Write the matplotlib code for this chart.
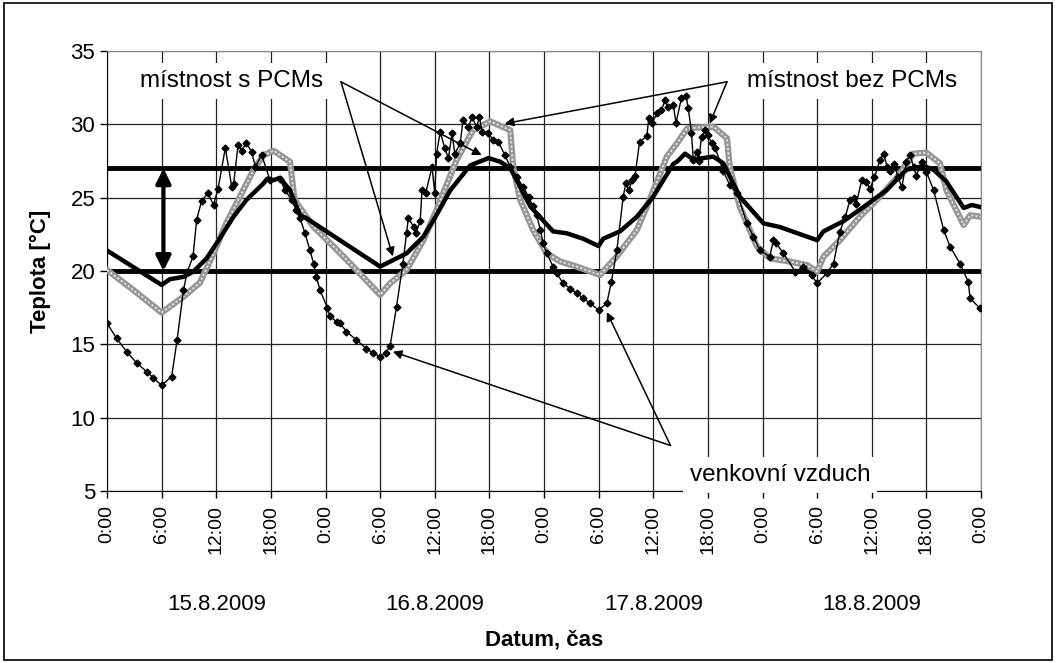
import matplotlib
matplotlib.use("Agg")
import matplotlib.pyplot as plt
from matplotlib.patches import Rectangle

plt.rcParams['font.family'] = ['Liberation Sans', 'DejaVu Sans']

# hours from 15.8.2009 0:00
pcm_t = [0, 6.0, 6.9, 8.4, 9.5, 10.95, 12.05, 13.9, 15.3, 17.2, 17.6, 18.3, 19.0, 20.1, 21.2, 21.9,
         30.0, 31.1, 32.9, 34.75, 36.0, 37.7, 39.9, 41.9, 43.2, 44.3, 45.0, 46.5, 49.0, 50.5, 52.3,
         54.0, 54.5, 56.35, 58.2, 60.0, 62.2, 62.6, 63.5, 64.4, 66.6, 67.7, 69.5, 72.1, 73.9, 78.0,
         78.7, 80.9, 83.4, 85.6, 87.8, 89.7, 90.8, 92.2, 94.1, 95.0, 96.0]
pcm_v = [21.4, 19.05, 19.44, 19.6, 19.96, 20.87, 21.9, 23.7, 24.84, 25.98, 26.3, 26.2, 26.35, 25.5, 23.8, 23.6,
         20.3, 20.64, 21.2, 22.34, 23.6, 25.5, 27.2, 27.7, 27.45, 27.0, 26.2, 24.4, 22.7, 22.57, 22.2,
         21.7, 22.2, 22.7, 23.7, 25.07, 27.3, 27.45, 28.0, 27.6, 27.8, 27.34, 25.07, 23.25, 23.0, 22.1,
         22.7, 23.4, 24.5, 25.5, 26.9, 27.16, 26.9, 26.1, 24.3, 24.5, 24.35]

nopcm_t = [0, 2.9, 6.0, 8.4, 10.2, 11.7, 13.1, 14.6, 16.1, 17.2, 18.3, 20.1, 20.6, 22.7, 24.9, 27.05,
           30.0, 31.1, 32.9, 34.75, 36.2, 38.4, 40.2, 42.1, 44.3, 44.6, 45.4, 46.8, 48.3, 49.8, 51.6,
           54.15, 56.0, 58.2, 59.6, 61.5, 62.6, 63.7, 64.0, 66.6, 68.1, 68.4, 69.5, 71.4, 72.8, 75.0,
           76.9, 78.0, 78.7, 80.5, 82.7, 84.9, 86.8, 88.6, 90.0, 91.5, 92.2, 94.1, 94.8, 96.0]
nopcm_v = [20.07, 18.7, 17.16, 18.25, 19.2, 21.2, 23.25, 25.07, 26.9, 27.9, 28.2, 27.45, 24.84, 23.0, 21.66, 20.3,
           18.37, 19.16, 20.07, 22.1, 24.16, 27.57, 29.6, 30.2, 29.6, 27.1, 24.84, 22.8, 21.2, 20.64, 20.3,
           19.73, 21.0, 22.8, 24.84, 27.8, 28.7, 29.7, 29.75, 29.84, 29.05, 27.1, 24.4, 21.66, 20.87, 20.64,
           20.4, 19.96, 20.98, 22.1, 23.7, 25.07, 26.4, 28.0, 28.07, 27.34, 25.5, 23.14, 23.8, 23.7]

out_t = [0, 1.06, 2.16, 3.3, 4.36, 5.1, 6.0, 7.1, 7.7, 8.4, 8.8, 9.45, 9.85, 10.4, 11.1, 11.7, 12.2,
         13.0, 13.7, 13.9, 14.4, 14.8, 15.3, 15.9, 16.3, 17.0, 17.9, 19.0, 19.55, 20.3, 20.8, 21.2, 21.75,
         22.3, 22.7, 23.0, 23.4, 24.2, 24.5, 25.3, 25.6, 26.3, 27.4, 28.5, 29.25, 30.0,
         30.6, 31.1, 31.8, 32.5, 32.9, 33.1, 33.7, 33.9, 34.4, 34.6, 35.0, 35.7, 36.0, 36.2, 36.6, 37.1,
         37.5, 37.9, 38.2, 38.8, 39.1, 39.7, 40.1, 40.6, 40.9, 41.2, 41.9, 42.4, 43.0, 43.7, 44.3, 45.0,
         45.7, 46.3, 46.8, 47.2, 47.6, 47.9, 48.3, 49.0, 49.4, 50.1, 50.9, 51.6, 52.3, 53.05, 54.0, 54.9,
         55.4, 56.0, 56.7, 57.0, 57.3, 57.7, 58.0, 58.5,
         59.3, 59.5, 59.9, 60.4, 60.9, 61.3, 61.6, 62.2, 62.5, 63.1, 63.6, 63.85, 64.2, 64.4, 64.8, 65.0,
         65.3, 65.7, 66.0, 66.4, 66.8, 67.7, 68.4, 69.2, 70.3, 71.0, 71.7, 72.8, 73.2, 73.5, 74.3, 75.6,
         76.5, 77.4, 78.0, 79.05, 79.8, 80.5, 81.1, 81.6, 82.1, 82.3, 82.9, 83.4, 83.8, 84.3, 84.9, 85.3,
         85.7, 86.0, 86.4, 86.9, 87.3, 87.8, 88.2, 88.6, 88.9, 89.5, 90.0, 90.8, 91.9, 92.6, 93.7, 94.6,
         94.8, 95.9]
out_v = [16.44, 15.4, 14.5, 13.7, 13.14, 12.7, 12.2, 12.8, 15.3, 18.7, 19.9, 21.0, 23.5, 24.8, 25.3, 24.5, 25.6,
         28.4, 25.75, 25.9, 28.6, 28.2, 28.75, 28.1, 27.1, 27.9, 26.2, 26.3, 25.5, 24.84, 24.16, 23.6, 22.57,
         21.4, 20.5, 19.6, 18.7, 17.5, 16.9, 16.5, 16.44, 15.87, 15.3, 14.7, 14.4, 14.16,
         14.4, 14.9, 17.57, 20.5, 22.57, 23.6, 23.0, 22.57, 23.4, 25.5, 25.3, 27.1, 25.3, 28.0, 29.5, 28.37,
         27.7, 29.4, 28.0, 28.7, 30.3, 29.8, 30.5, 29.8, 30.5, 29.5, 29.4, 28.93, 28.8, 27.9, 27.1, 26.4,
         25.75, 25.07, 24.4, 23.8, 22.8, 21.9, 21.2, 20.3, 19.84, 19.16, 18.8, 18.48, 18.14, 17.8, 17.34, 17.8,
         19.27, 21.4, 25.07, 26.0, 25.5, 26.2, 26.5, 28.8,
         29.2, 30.4, 30.1, 30.75, 30.97, 31.66, 31.2, 31.3, 30.1, 31.8, 31.9, 31.1, 29.4, 27.57, 28.1, 27.5,
         29.16, 29.6, 29.3, 28.7, 28.4, 26.8, 25.86, 25.3, 23.25, 22.34, 21.4, 20.98, 22.1, 21.9, 21.2, 19.96,
         20.3, 19.7, 19.16, 19.84, 20.5, 22.68, 23.7, 24.84, 25.0, 24.6, 26.2, 26.1, 25.6, 26.4, 27.57, 28.0,
         27.1, 26.8, 27.3, 26.4, 25.7, 27.45, 27.9, 27.1, 26.5, 27.45, 26.77, 25.5, 22.8, 21.66, 20.5, 19.27,
         18.14, 17.45]

tick_hours = list(range(0, 97, 6))
tick_labels = ['0:00', '6:00', '12:00', '18:00'] * 4 + ['0:00']
days = ['15.8.2009', '16.8.2009', '17.8.2009', '18.8.2009']
comfort = [20, 27]

fig = plt.figure(figsize=(10.56, 6.63), dpi=100)
ax = fig.add_axes([107/1056, 1 - 491/663, 874/1056, 440/663])
fs = 16

ax.set_xlim(0, 96)
ax.set_ylim(5, 35)
ax.set_xticks(tick_hours)
ax.set_xticklabels(tick_labels, rotation=90, fontsize=14)
ax.set_yticks(range(5, 36, 5))
ax.tick_params(axis='y', labelsize=fs, length=5, width=1)
ax.tick_params(axis='x', length=5, width=1, pad=5)
ax.grid(True, color='#222222', lw=0.9)
ax.set_axisbelow(True)
for s in ['top', 'right']:
    ax.spines[s].set_color('#888888')
for s in ['left', 'bottom']:
    ax.spines[s].set_color('black')

for c in comfort:
    ax.axhline(c, color='black', lw=3.5, zorder=2)

ax.plot(nopcm_t, nopcm_v, color='#959595', lw=4.5, zorder=3)
ax.plot(nopcm_t, nopcm_v, color='#e6e6e6', lw=1.3, ls=(0, (1.2, 1.2)), zorder=3)
ax.plot(pcm_t, pcm_v, color='black', lw=3.2, zorder=4)
ax.plot(out_t, out_v, color='black', lw=1.0, marker='D', ms=3.5, zorder=5)

ax.annotate('', xy=(6.2, 20), xytext=(6.2, 27),
            arrowprops=dict(arrowstyle='<|-|>', lw=3, color='black', mutation_scale=22,
                            shrinkA=0, shrinkB=0), zorder=6)

for i, d in enumerate(days):
    ax.text(12 + 24 * i, -0.257, d, transform=ax.get_xaxis_transform(), ha='center', va='center', fontsize=fs)

ax.set_xlabel('Datum, čas', fontsize=fs, fontweight='bold')
ax.xaxis.set_label_coords(0.5, -0.315)
ax.set_ylabel('Teplota [°C]', fontsize=fs, fontweight='bold')
ax.yaxis.set_label_coords(-0.064, 0.5)

arr = dict(arrowstyle='-|>', lw=1.1, color='black', mutation_scale=13, shrinkA=0, shrinkB=0)
box = dict(facecolor='white', edgecolor='none', pad=5)
afs = 17.5

ax.text(13.7, 32.95, 'místnost s PCMs', fontsize=afs, ha='center', va='center', bbox=box, zorder=7)
ax.annotate('', xy=(31.4, 21.0), xytext=(25.7, 32.9), arrowprops=arr, zorder=7)
ax.annotate('', xy=(41.15, 27.9), xytext=(25.7, 32.9), arrowprops=arr, zorder=7)

ax.text(81.8, 32.95, 'místnost bez PCMs', fontsize=afs, ha='center', va='center', bbox=box, zorder=7)
ax.annotate('', xy=(43.7, 30.05), xytext=(68.1, 32.9), arrowprops=arr, zorder=7)
ax.annotate('', xy=(66.2, 30.05), xytext=(68.1, 32.9), arrowprops=arr, zorder=7)

ax.text(64.0, 6.1, 'venkovní vzduch', fontsize=afs, ha='left', va='center', bbox=box, zorder=7)
ax.annotate('', xy=(31.4, 14.5), xytext=(61.9, 8.1), arrowprops=arr, zorder=7)
ax.annotate('', xy=(54.9, 17.2), xytext=(61.9, 8.1), arrowprops=arr, zorder=7)

fig.patches.append(Rectangle((0.004, 0.005), 0.992, 0.99, transform=fig.transFigure,
                             fill=False, edgecolor='black', lw=1.2))

fig.savefig('out.png', dpi=100)
